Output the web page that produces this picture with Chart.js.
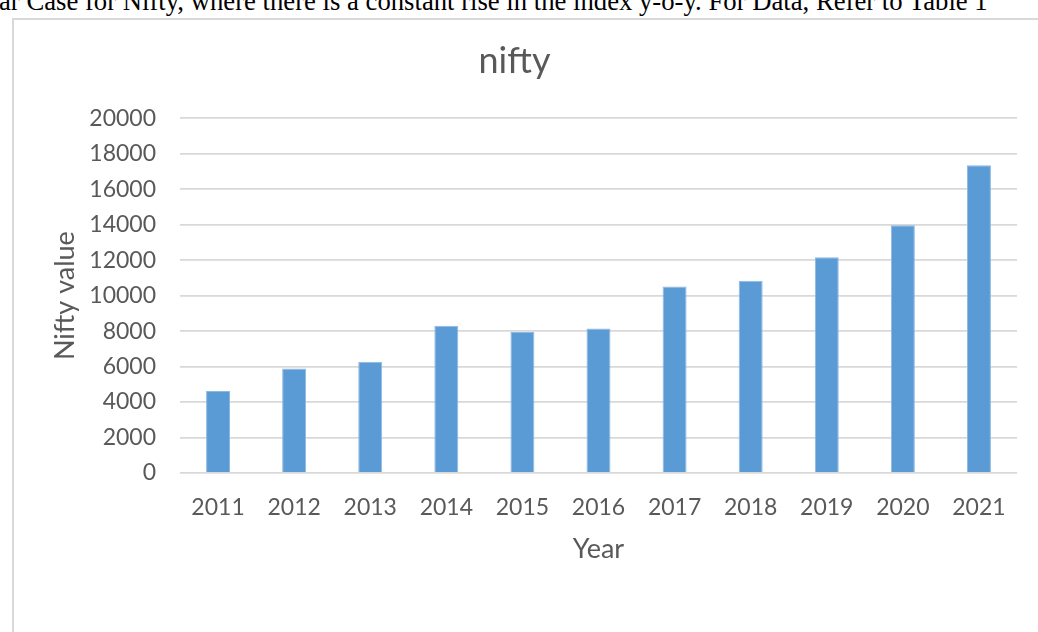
<!DOCTYPE html>
<html>
<head>
<meta charset="utf-8">
<script src="https://cdn.jsdelivr.net/npm/chart.js@4/dist/chart.umd.min.js"></script>
<style>
  html, body { margin: 0; padding: 0; background: #fff; overflow: hidden; }
  body { width: 1038px; height: 632px; position: relative; }
  #caption { position: absolute; left: -1px; top: -14px; white-space: nowrap;
    font-family: "Liberation Serif", "Times New Roman", serif; font-size: 26.7px; color: #000; }
  #frame { position: absolute; left: 12px; top: 18px; width: 1100px; height: 700px;
    border: 2px solid #d9d9d9; box-sizing: border-box; }
  #c { position: absolute; left: 0; top: 0; }
</style>
</head>
<body>
<div id="caption">ar Case for Nifty, where there is a constant rise in the index y-o-y. For Data, Refer to Table 1</div>
<div id="frame"></div>
<canvas id="c" width="1038" height="632"></canvas>
<script>
const years = ["2011","2012","2013","2014","2015","2016","2017","2018","2019","2020","2021"];
const niftyValues = [4620, 5890, 6270, 8300, 7950, 8150, 10520, 10840, 12160, 13970, 17350];
const yTicks = [0, 2000, 4000, 6000, 8000, 10000, 12000, 14000, 16000, 18000, 20000];
const chartTitle = "nifty";
const xTitle = "Year";
const yTitle = "Nifty value";

function draw() {
  const grey = "#595959";
  new Chart(document.getElementById("c"), {
    type: "bar",
    data: {
      labels: years,
      datasets: [{
        label: "nifty",
        data: niftyValues,
        backgroundColor: "#5B9BD5",
        borderColor: "#8DB8E3",
        borderWidth: 1,
        barPercentage: 0.5,
        categoryPercentage: 0.63
      }]
    },
    options: {
      responsive: false,
      animation: false,
      devicePixelRatio: 1,
      layout: { padding: { left: 12, top: 18, right: 21, bottom: 67 } },
      plugins: {
        legend: { display: false },
        tooltip: { enabled: false },
        title: {
          display: true,
          text: chartTitle,
          color: grey,
          font: { family: "Lato", size: 36, weight: "normal" },
          padding: { top: 22, bottom: 35 }
        }
      },
      scales: {
        x: {
          afterFit: s => { s.height = 92; },
          grid: { display: false, drawTicks: false },
          border: { display: false },
          ticks: { color: grey, padding: 21, font: { family: "Lato", size: 23 }, maxRotation: 0 },
          title: { display: true, text: xTitle, color: grey, padding: 0,
                   font: { family: "Lato", size: 27 } }
        },
        y: {
          min: 0, max: 20000,
          afterFit: s => { s.width = 168; },
          afterBuildTicks: s => { s.ticks = yTicks.map(v => ({ value: v })); },
          grid: { color: "#d9d9d9", lineWidth: 1.8, drawTicks: false },
          border: { display: false },
          ticks: { color: grey, padding: 24, font: { family: "Lato", size: 23 },
                   callback: v => String(v) },
          title: { display: true, text: yTitle, color: grey, padding: { top: 37, bottom: 0 },
                   font: { family: "Lato", size: 27 } }
        }
      }
    }
  });
}
Promise.all([
  document.fonts.load('23px Lato'),
  document.fonts.load('27px Lato'),
  document.fonts.load('36px Lato')
]).then(draw, draw);
</script>
</body>
</html>
